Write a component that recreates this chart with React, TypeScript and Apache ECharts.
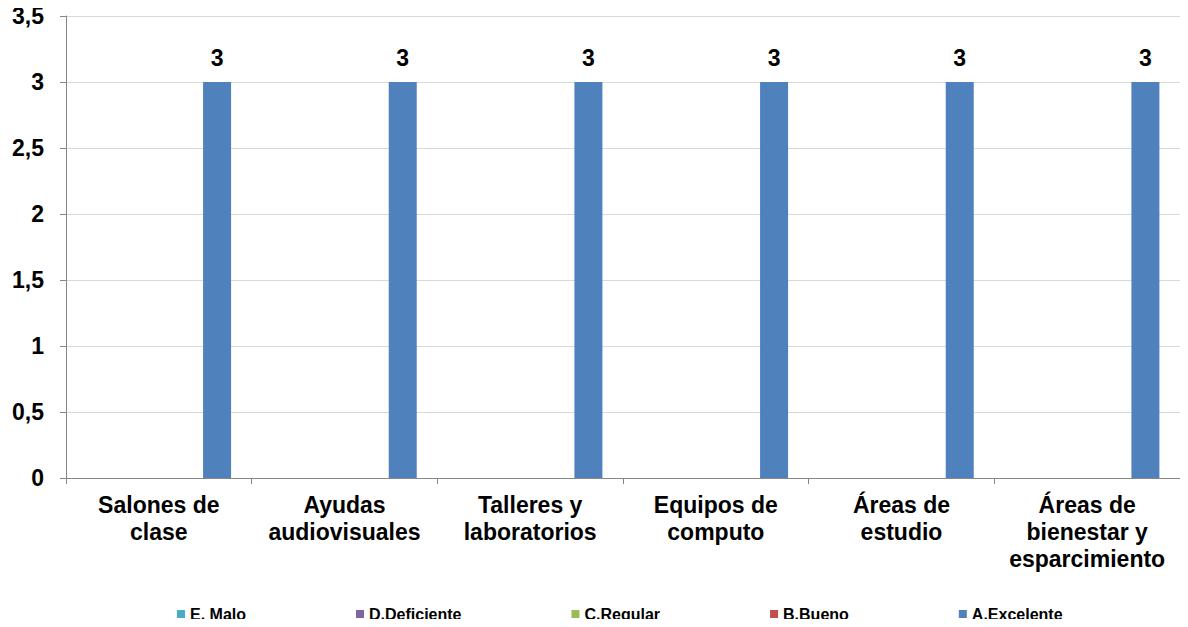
import React, { useEffect, useRef } from "react";
import * as echarts from "echarts";

const categories = [
  "Salones de\nclase",
  "Ayudas\naudiovisuales",
  "Talleres y\nlaboratorios",
  "Equipos de\ncomputo",
  "Áreas de\nestudio",
  "Áreas de\nbienestar y\nesparcimiento",
];
const seriesNames = ["E. Malo", "D.Deficiente", "C.Regular", "B.Bueno", "A.Excelente"];
const seriesColors = ["#4bacc6", "#8064a2", "#9bbb59", "#c0504d", "#4f81bd"];
const malo = [0, 0, 0, 0, 0, 0];
const deficiente = [0, 0, 0, 0, 0, 0];
const regular = [0, 0, 0, 0, 0, 0];
const bueno = [0, 0, 0, 0, 0, 0];
const excelente = [3, 3, 3, 3, 3, 3];
const seriesData = [malo, deficiente, regular, bueno, excelente];

export default function App() {
  const ref = useRef<HTMLDivElement>(null);
  useEffect(() => {
    if (!ref.current) return;
    const chart = echarts.init(ref.current, null, { renderer: "svg" });
    const font = "Liberation Sans, Arial, sans-serif";
    chart.setOption({
      animation: false,
      grid: { left: 66, right: 8, top: 16, bottom: 149, containLabel: false },
      legend: {
        left: 177,
        top: 606,
        padding: 0,
        itemWidth: 8,
        itemHeight: 8,
        itemGap: 110,
        icon: "rect",
        textStyle: { fontFamily: font, fontWeight: "bold", fontSize: 16, color: "#000" },
        data: seriesNames,
      },
      xAxis: {
        type: "category",
        data: categories,
        axisLine: { lineStyle: { color: "#868686" } },
        axisTick: { show: true, length: 6, lineStyle: { color: "#868686" } },
        axisLabel: {
          interval: 0,
          margin: 13,
          fontFamily: font,
          fontWeight: "bold",
          fontSize: 23,
          lineHeight: 27,
          color: "#000",
        },
      },
      yAxis: {
        type: "value",
        min: 0,
        max: 3.5,
        interval: 0.5,
        axisLine: { show: true, lineStyle: { color: "#868686" } },
        axisTick: { show: true, length: 6, lineStyle: { color: "#868686" } },
        splitLine: { lineStyle: { color: "#d9d9d9" } },
        axisLabel: {
          margin: 22,
          fontFamily: font,
          fontWeight: "bold",
          fontSize: 23,
          color: "#000",
          formatter: (v: number) => String(v).replace(".", ","),
        },
      },
      series: seriesNames.map((name, i) => ({
        name,
        type: "bar",
        data: seriesData[i],
        barWidth: 28,
        barGap: "4%",
        itemStyle: { color: seriesColors[i] },
        label:
          i === 4
            ? {
                show: true,
                position: "top",
                distance: 13,
                fontFamily: font,
                fontWeight: "bold",
                fontSize: 23,
                color: "#000",
              }
            : { show: false },
      })),
    });
    return () => chart.dispose();
  }, []);
  return <div ref={ref} style={{ width: 1188, height: 627, margin: -8 }} />;
}
